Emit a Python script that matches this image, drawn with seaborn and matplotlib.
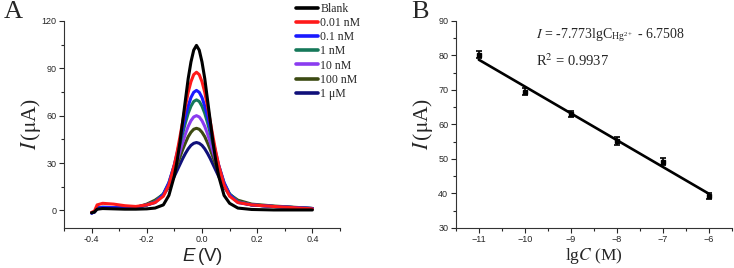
import numpy as np
import pandas as pd
import matplotlib
matplotlib.use("Agg")
import matplotlib.pyplot as plt
import seaborn as sns
from matplotlib.ticker import MultipleLocator

# --- Panel A: DPV curves ---
potential = [-0.40, -0.39, -0.38, -0.36, -0.32, -0.28, -0.24, -0.20, -0.17, -0.14,
             -0.12, -0.10, -0.09, -0.08, -0.07, -0.06, -0.05, -0.04, -0.03, -0.02,
             -0.01, 0.00, 0.01, 0.02, 0.03, 0.04, 0.05, 0.06, 0.08, 0.10,
             0.13, 0.18, 0.26, 0.40]

blank = [-1.5, -1.0, 0.8, 1.2, 1.0, 0.8, 0.8, 1.0, 1.5, 3.5, 9.5, 22, 31.5, 43, 56.5,
         70, 83.5, 94, 101.5, 104.5, 101.5, 94, 83.5, 70, 56.5, 43, 31.5, 22, 9.5, 4.5,
         1.5, 0.6, 0.3, 0.3]
c_001nM = [-1.2, -0.5, 3.5, 4.5, 4.0, 3.0, 2.5, 3.5, 5.0, 9.0, 16, 29, 37.2, 46.5, 56.2,
           66, 74.8, 81.5, 86, 87.5, 86, 81.5, 74.8, 66, 56.2, 46.5, 37.2, 29, 16, 9,
           5, 3.5, 2.5, 1.0]
c_01nM = [-1.8, -1.0, 1.5, 2.0, 1.8, 1.6, 2.0, 3.5, 5.0, 10, 17.5, 29, 36.4, 44, 51.7,
          59.5, 66.1, 71.5, 74.8, 76, 74.8, 71.5, 66.1, 59.5, 51.7, 44, 36.4, 29, 17.5, 10,
          5, 3.5, 2.5, 1.2]
c_1nM = [-1.5, -1.0, 1.5, 2.0, 1.8, 1.6, 2.0, 3.5, 5.5, 10.5, 17.5, 28.5, 34.8, 42, 48.9,
         55.5, 61.5, 66, 69, 70, 69, 66, 61.5, 55.5, 48.9, 42, 34.8, 28.5, 17.5, 10.5,
         5.5, 3.5, 2.5, 1.2]
c_10nM = [-1.5, -1.0, 1.2, 1.8, 1.6, 1.5, 1.8, 3.5, 5.5, 10, 16.4, 25.8, 31.3, 37.2, 43,
          48.5, 53.2, 56.8, 59.2, 60, 59.2, 56.8, 53.2, 48.5, 43, 37.2, 31.3, 25.8, 16.4, 10,
          5.5, 3.5, 2.5, 1.2]
c_100nM = [-1.5, -1.0, 1.2, 1.8, 1.6, 1.5, 1.8, 4.0, 6.5, 10.2, 16.2, 24.3, 29, 33.7, 38.5,
           42.8, 46.7, 49.5, 51.4, 52, 51.4, 49.5, 46.7, 42.8, 38.5, 33.7, 29, 24.3, 16.2, 10.2,
           6.5, 4.0, 2.8, 1.3]
c_1uM = [-1.5, -1.0, 1.0, 1.5, 1.4, 1.3, 1.6, 3.5, 5.5, 9.8, 15, 21.7, 25.4, 29.1, 32.8,
         36.1, 39, 41.2, 42.5, 43, 42.5, 41.2, 39, 36.1, 32.8, 29.1, 25.4, 21.7, 15, 9.8,
         5.5, 3.5, 2.5, 1.2]

labels = ["Blank", "0.01 nM", "0.1 nM", "1 nM", "10 nM", "100 nM", "1 \u03bcM"]
colors = ["#000000", "#ff1a1a", "#1a1aff", "#16785a", "#8a3cf0", "#3c4a12", "#10107a"]
series = [blank, c_001nM, c_01nM, c_1nM, c_10nM, c_100nM, c_1uM]

# --- Panel B: calibration ---
lg_conc = [-11, -10, -9, -8, -7, -6]
peak_current = [80.2, 69.4, 62.9, 55.2, 49.1, 39.2]
current_err = [1.1, 1.0, 0.9, 1.1, 1.0, 0.9]
slope, intercept = -7.773, -6.7508

sns.set_style("ticks")
plt.rcParams["font.family"] = ["Liberation Sans", "DejaVu Sans"]
plt.rcParams["mathtext.fontset"] = "custom"
plt.rcParams["mathtext.rm"] = "Liberation Sans"
plt.rcParams["mathtext.it"] = "Liberation Sans:italic"
plt.rcParams["xtick.direction"] = "out"
plt.rcParams["ytick.direction"] = "out"

fig = plt.figure(figsize=(7.34, 2.68), dpi=100)
ax_a = fig.add_axes([0.0872, 0.150, 0.376, 0.772])
ax_b = fig.add_axes([0.621, 0.150, 0.376, 0.772])

rows = []
for lab, ys in zip(labels, series):
    for e, i in zip(potential, ys):
        rows.append({"E": e, "I": i, "conc": lab})
df = pd.DataFrame(rows)

sns.lineplot(data=df, x="E", y="I", hue="conc", hue_order=labels[::-1],
             palette=dict(zip(labels, colors)), lw=2.2, sort=False,
             legend=False, ax=ax_a)

ax_a.set_xlim(-0.5, 0.5)
ax_a.set_ylim(-11, 120)
ax_a.xaxis.set_minor_locator(MultipleLocator(0.1))
ax_a.yaxis.set_major_locator(MultipleLocator(30))
ax_a.yaxis.set_minor_locator(MultipleLocator(15))
ax_a.set_xticks([-0.4, -0.2, 0.0, 0.2, 0.4])
ax_a.set_xticklabels(["-0.4", "-0.2", "0.0", "0.2", "0.4"])
ax_a.set_xlabel(r"$\mathit{E}\,$(V)", fontsize=13.5, labelpad=1, math_fontfamily="custom")
ax_a.set_ylabel(r"$\mathit{I}\,$($\mathrm{\mu}$A)", fontsize=15.5, family="Liberation Serif",
                math_fontfamily="stix")
ax_a.yaxis.set_label_coords(-0.075, 0.5)

handles = [plt.Line2D([], [], color=c, lw=2.6) for c in colors]
fig.legend(handles, labels, loc="upper left", bbox_to_anchor=(0.393, 1.015),
           frameon=False, handlelength=1.9, handletextpad=0.2, labelspacing=0.18,
           borderpad=0.1, prop={"family": "Liberation Serif", "size": 8.5})

# Panel B
fit_x = [lg_conc[0], lg_conc[-1]]
fit_y = [slope * x + intercept for x in fit_x]
sns.lineplot(x=fit_x, y=fit_y, color="black", lw=1.9, ax=ax_b)
ax_b.errorbar(lg_conc, peak_current, yerr=current_err, fmt="s", ms=2.5,
              color="black", ecolor="black", elinewidth=1.2, capsize=2.2, capthick=1.2)

ax_b.set_xlim(-11.5, -5.5)
ax_b.set_ylim(30, 90)
ax_b.xaxis.set_major_locator(MultipleLocator(1))
ax_b.xaxis.set_minor_locator(MultipleLocator(0.5))
ax_b.yaxis.set_major_locator(MultipleLocator(10))
ax_b.yaxis.set_minor_locator(MultipleLocator(5))
ax_b.set_xlabel(r"lg$\mathit{C}$ (M)", fontsize=12.5, family="Liberation Serif",
                labelpad=1, math_fontfamily="stix")
ax_b.set_ylabel(r"$\mathit{I}\,$($\mathrm{\mu}$A)", fontsize=15.5, family="Liberation Serif",
                math_fontfamily="stix")
ax_b.yaxis.set_label_coords(-0.075, 0.5)
ax_b.text(0.29, 0.93, r"$\mathit{I}$ = -7.773lgC$_{\mathregular{Hg^{2+}}}$ - 6.7508",
          transform=ax_b.transAxes, fontsize=10, family="Liberation Serif", va="center",
          math_fontfamily="stix")
ax_b.text(0.29, 0.81, r"R$^2$ = 0.9937", transform=ax_b.transAxes,
          fontsize=10.5, family="Liberation Serif", va="center", math_fontfamily="stix")

for ax in (ax_a, ax_b):
    sns.despine(ax=ax)
    ax.tick_params(which="major", length=3.5, width=0.8, labelsize=6.5, pad=2)
    ax.tick_params(which="minor", length=2, width=0.8)
    for sp in ax.spines.values():
        sp.set_linewidth(0.8)
        sp.set_color("#333333")

fig.text(0.005, 0.995, "A", fontsize=19, family="Liberation Serif", va="top")
fig.text(0.560, 0.995, "B", fontsize=19, family="Liberation Serif", va="top")

fig.savefig("out.png", dpi=100)
